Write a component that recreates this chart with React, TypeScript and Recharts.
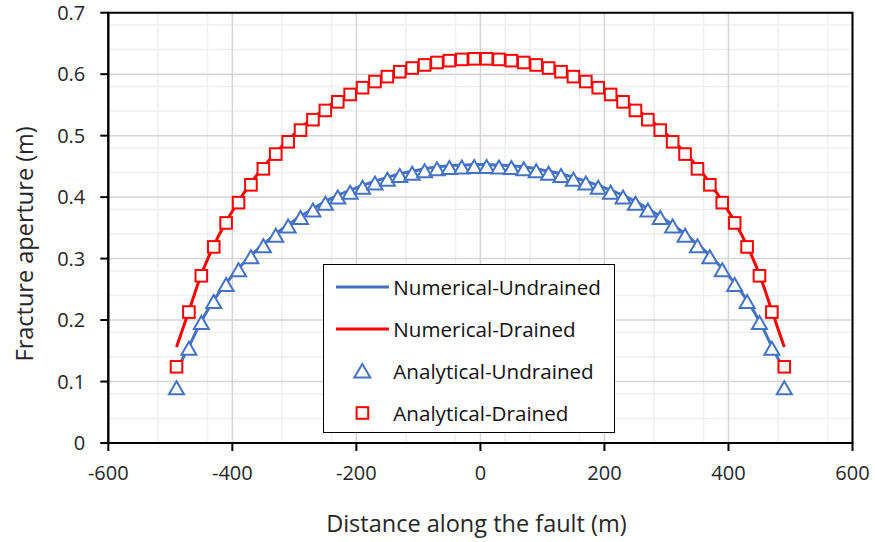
import {
  CartesianGrid,
  ComposedChart,
  Label,
  Legend,
  Line,
  ReferenceArea,
  Scatter,
  XAxis,
  YAxis,
} from "recharts";

// distance along the fault (m), same stations for both models
const distances = [
  -490, -470, -450, -430, -410, -390, -370, -350, -330, -310, -290, -270, -250, -230, -210, -190, -170, -150, -130,
  -110, -90, -70, -50, -30, -10, 10, 30, 50, 70, 90, 110, 130, 150, 170, 190, 210, 230, 250, 270, 290, 310, 330, 350,
  370, 390, 410, 430, 450, 470, 490,
];

// fracture aperture (m)
const numericalUndrained = [
  0.118, 0.157, 0.198, 0.232, 0.26, 0.284, 0.305, 0.323, 0.34, 0.355, 0.369, 0.381, 0.393, 0.403, 0.411, 0.419, 0.426,
  0.432, 0.438, 0.442, 0.446, 0.449, 0.451, 0.452, 0.453, 0.453, 0.452, 0.451, 0.449, 0.446, 0.442, 0.438, 0.432, 0.426,
  0.419, 0.411, 0.403, 0.393, 0.381, 0.369, 0.355, 0.34, 0.323, 0.305, 0.284, 0.26, 0.232, 0.198, 0.157, 0.118,
];
const numericalDrained = [
  0.156, 0.215, 0.274, 0.321, 0.36, 0.393, 0.423, 0.449, 0.472, 0.493, 0.512, 0.529, 0.544, 0.558, 0.57, 0.581, 0.591,
  0.599, 0.607, 0.613, 0.618, 0.622, 0.625, 0.627, 0.628, 0.628, 0.627, 0.625, 0.622, 0.618, 0.613, 0.607, 0.599, 0.591,
  0.581, 0.57, 0.558, 0.544, 0.529, 0.512, 0.493, 0.472, 0.449, 0.423, 0.393, 0.36, 0.321, 0.274, 0.215, 0.156,
];
const analyticalUndrained = [
  0.09, 0.154, 0.196, 0.23, 0.258, 0.282, 0.303, 0.321, 0.338, 0.353, 0.367, 0.379, 0.39, 0.4, 0.408, 0.416, 0.423,
  0.429, 0.435, 0.439, 0.443, 0.446, 0.448, 0.449, 0.45, 0.45, 0.449, 0.448, 0.446, 0.443, 0.439, 0.435, 0.429, 0.423,
  0.416, 0.408, 0.4, 0.39, 0.379, 0.367, 0.353, 0.338, 0.321, 0.303, 0.282, 0.258, 0.23, 0.196, 0.154, 0.09,
];
const analyticalDrained = [
  0.124, 0.213, 0.272, 0.319, 0.358, 0.391, 0.42, 0.446, 0.47, 0.49, 0.509, 0.526, 0.541, 0.555, 0.567, 0.578, 0.588,
  0.596, 0.604, 0.61, 0.615, 0.619, 0.622, 0.624, 0.625, 0.625, 0.624, 0.622, 0.619, 0.615, 0.61, 0.604, 0.596, 0.588,
  0.578, 0.567, 0.555, 0.541, 0.526, 0.509, 0.49, 0.47, 0.446, 0.42, 0.391, 0.358, 0.319, 0.272, 0.213, 0.124,
];

const xTicks = [-600, -400, -200, 0, 200, 400, 600];
const yTicks = [0, 0.1, 0.2, 0.3, 0.4, 0.5, 0.6, 0.7];
const xMinorTicks = [
  -560, -520, -480, -440, -360, -320, -280, -240, -160, -120, -80, -40, 40, 80, 120, 160, 240, 280, 320, 360, 440, 480,
  520, 560,
];
const yMinorTicks = [
  0.02, 0.04, 0.06, 0.08, 0.12, 0.14, 0.16, 0.18, 0.22, 0.24, 0.26, 0.28, 0.32, 0.34, 0.36, 0.38, 0.42, 0.44, 0.46, 0.48,
  0.52, 0.54, 0.56, 0.58, 0.62, 0.64, 0.66, 0.68,
];

const BLUE = "#4472C4";
const RED = "#FF0000";
const FONT = "'Open Sans', sans-serif";
const TEXT = "#262626";

const toPoints = (ys: number[]) => distances.map((x, i) => ({ x, y: ys[i] }));

const numUndrainedPts = toPoints(numericalUndrained);
const numDrainedPts = toPoints(numericalDrained);
const anaUndrainedPts = toPoints(analyticalUndrained);
const anaDrainedPts = toPoints(analyticalDrained);

const Triangle = ({ cx, cy }: any) => {
  if (cx == null || cy == null) return null;
  const w = 7.5;
  const h = 6.5;
  return (
    <path
      d={`M${cx},${cy - h} L${cx + w},${cy + h} L${cx - w},${cy + h} Z`}
      fill="#fff"
      stroke={BLUE}
      strokeWidth={2}
    />
  );
};

const Square = ({ cx, cy }: any) => {
  if (cx == null || cy == null) return null;
  const s = 5.8;
  return <rect x={cx - s} y={cy - s} width={s * 2} height={s * 2} fill="#fff" stroke={RED} strokeWidth={2} />;
};

const legendRows = [
  { name: "Numerical-Undrained", kind: "line", color: BLUE },
  { name: "Numerical-Drained", kind: "line", color: RED },
  { name: "Analytical-Undrained", kind: "triangle", color: BLUE },
  { name: "Analytical-Drained", kind: "square", color: RED },
];

const LegendBox = () => (
  <div style={{ position: "relative", width: "100%", height: "100%" }}>
    {legendRows.map((row, i) => {
      const top = 21.5 + i * 42.2;
      return (
        <div key={row.name}>
          <svg style={{ position: "absolute", left: 0, top: top - 10 }} width={70} height={20}>
            {row.kind === "line" && <line x1={12} x2={65} y1={10} y2={10} stroke={row.color} strokeWidth={3} />}
            {row.kind === "triangle" && (
              <path d="M38.3,3 L46.3,16.5 L30.3,16.5 Z" fill="#fff" stroke={row.color} strokeWidth={2} />
            )}
            {row.kind === "square" && (
              <rect x={32.6} y={4.2} width={11.6} height={11.6} fill="#fff" stroke={row.color} strokeWidth={2} />
            )}
          </svg>
          <span
            style={{
              position: "absolute",
              left: 69,
              top: top - 14,
              fontFamily: FONT,
              fontSize: 20.6,
              lineHeight: "28px",
              color: "#111",
              whiteSpace: "nowrap",
            }}
          >
            {row.name}
          </span>
        </div>
      );
    })}
  </div>
);

export default function App() {
  return (
    <div style={{ position: "absolute", left: 0, top: 0 }}>
      <ComposedChart
        width={875}
        height={542}
        margin={{ top: 12.7, right: 22.5, bottom: 39, left: 18.3 }}
        style={{ fontFamily: FONT }}
      >
        <CartesianGrid
          stroke="#efefef"
          strokeWidth={1.5}
          horizontalValues={yMinorTicks}
          verticalValues={xMinorTicks}
        />
        <CartesianGrid stroke="#d6d6d6" strokeWidth={1.5} horizontalValues={yTicks} verticalValues={xTicks} />
        <XAxis
          type="number"
          dataKey="x"
          domain={[-600, 600]}
          ticks={xTicks}
          height={60}
          tickSize={8}
          tickMargin={15}
          stroke="#000"
          strokeWidth={2}
          tick={{ fill: TEXT, fontSize: 20, fontFamily: FONT }}
          allowDataOverflow
        >
          <Label
            content={({ viewBox }: any) => (
              <text
                x={viewBox.x + viewBox.width / 2 - 4}
                y={viewBox.y + 89}
                textAnchor="middle"
                fill={TEXT}
                fontSize={23.5}
                fontFamily={FONT}
              >
                Distance along the fault (m)
              </text>
            )}
          />
        </XAxis>
        <YAxis
          type="number"
          domain={[0, 0.7]}
          ticks={yTicks}
          width={90}
          tickSize={8}
          tickMargin={15}
          stroke="#000"
          strokeWidth={2}
          tick={{ fill: TEXT, fontSize: 20, fontFamily: FONT }}
          allowDataOverflow
        >
          <Label
            content={({ viewBox }: any) => {
              const x = 24;
              const y = viewBox.y + viewBox.height / 2 + 16;
              return (
                <text
                  x={x}
                  y={y}
                  transform={`rotate(-90, ${x}, ${y})`}
                  textAnchor="middle"
                  dominantBaseline="central"
                  fill={TEXT}
                  fontSize={23.5}
                  fontFamily={FONT}
                >
                  Fracture aperture (m)
                </text>
              );
            }}
          />
        </YAxis>
        <ReferenceArea
          x1={-600}
          x2={600}
          y1={0}
          y2={0.7}
          fill="none"
          stroke="#000"
          strokeWidth={2}
          ifOverflow="visible"
        />
        <Line
          data={numUndrainedPts}
          dataKey="y"
          name="Numerical-Undrained"
          type="monotone"
          stroke={BLUE}
          strokeWidth={3}
          dot={false}
          isAnimationActive={false}
        />
        <Line
          data={numDrainedPts}
          dataKey="y"
          name="Numerical-Drained"
          type="monotone"
          stroke={RED}
          strokeWidth={3}
          dot={false}
          isAnimationActive={false}
        />
        <Scatter
          data={anaUndrainedPts}
          dataKey="y"
          name="Analytical-Undrained"
          shape={<Triangle />}
          isAnimationActive={false}
        />
        <Scatter
          data={anaDrainedPts}
          dataKey="y"
          name="Analytical-Drained"
          shape={<Square />}
          isAnimationActive={false}
        />
        <Legend
          layout="vertical"
          align="center"
          verticalAlign="middle"
          content={() => <LegendBox />}
          wrapperStyle={{
            left: 323.3,
            top: 264.3,
            width: 292,
            height: 169,
            border: "1.5px solid #000",
            background: "#fff",
            boxSizing: "border-box",
          }}
        />
      </ComposedChart>
    </div>
  );
}
